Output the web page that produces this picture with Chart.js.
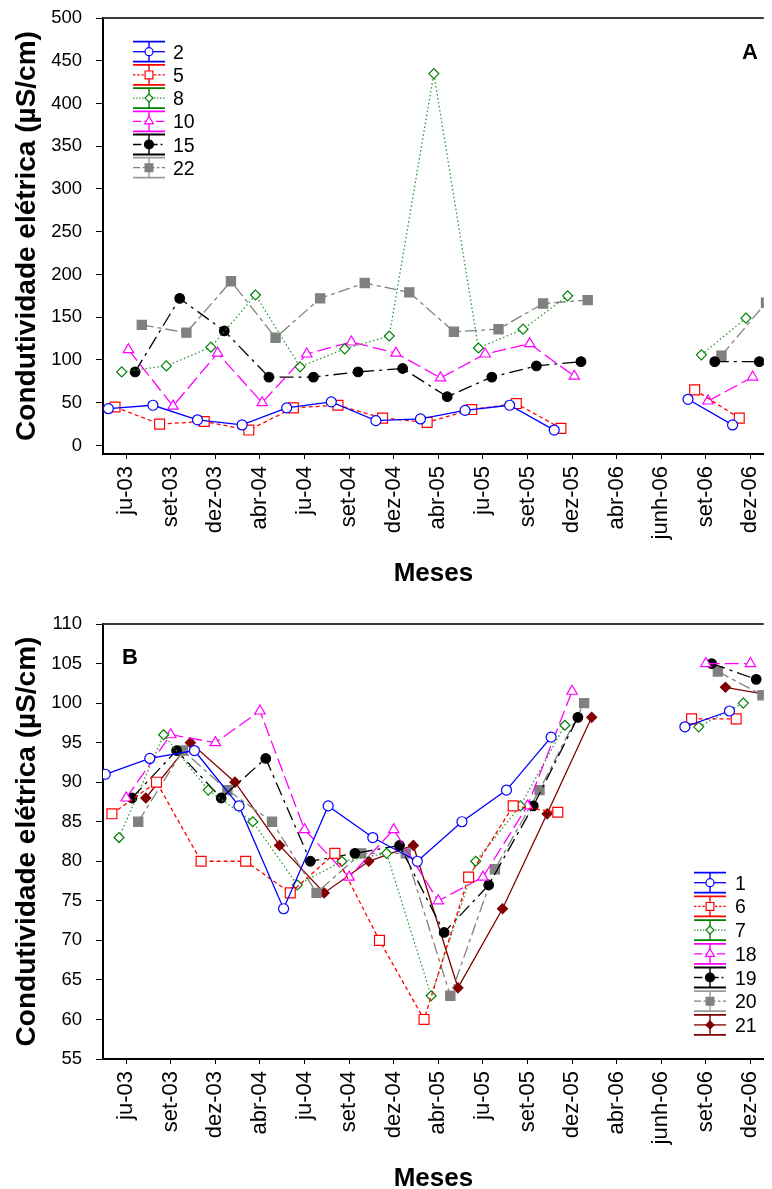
<!DOCTYPE html>
<html><head><meta charset="utf-8">
<script src="https://cdn.jsdelivr.net/npm/chart.js@4.4.1/dist/chart.umd.min.js"></script>
<style>
html,body{margin:0;padding:0;background:#fff;}
#wrap{width:772px;height:1189px;position:relative;overflow:hidden;background:#fff;}
canvas{display:block;position:absolute;left:0;}
#cA{top:0;}
#cB{top:605px;}
</style></head><body>
<div id="wrap">
<canvas id="cA" width="772" height="600"></canvas>
<canvas id="cB" width="772" height="600"></canvas>
</div>
<script>
// ---------- DATA ----------
const monthLabels = ['ju-03','set-03','dez-03','abr-04','ju-04','set-04','dez-04','abr-05','ju-05','set-05','dez-05','abr-06','junh-06','set-06','dez-06'];
const yTicksA = [0,50,100,150,200,250,300,350,400,450,500];
const yTicksB = [55,60,65,70,75,80,85,90,95,100,105,110];
const yTitle = 'Condutividade elétrica (µS/cm)';
const xTitle = 'Meses';

// Panel A stations
const namesA = ['2','5','8','10','15','22'];
const stA2  = [43, 47, 30, 24, 44, 51, 29, 31, 41, 47, 18, null, null, 54, 24];
const stA5  = [45, 25, 28, 18, 44, 47, 32, 27, 42, 49, 20, null, null, 65, 32];
const stA8  = [86, 93, 115, 176, 92, 113, 128, 435, 114, 136, 175, null, null, 106, 149];
const stA10 = [112, 46, 108, 50, 107, 121, 108, 79, 107, 119, 81, null, null, 52, 80];
const stA15 = [86, 172, 134, 80, 80, 86, 90, 57, 80, 93, 98, null, null, 98, 98];
const stA22 = [141, 132, 192, 126, 172, 190, 179, 133, 136, 166, 170, null, null, 105, 167];

// Panel B stations
const namesB = ['1','6','7','18','19','20','21'];
const stB1  = [91, 93, 94, 87, 74, 87, 83, 80, 85, 89, 95.7, null, null, 97, 99];
const stB6  = [86, 90, 80, 80, 76, 81, 70, 60, 78, 87, 86.2, null, null, 98, 98];
const stB7  = [83, 96, 89, 85, 77, 80, 81, 63, 80, 87, 97.2, null, null, 97, 100];
const stB18 = [88, 96, 95, 99, 84, 78, 84, 75, 78, 87, 101.5, null, null, 105, 105];
const stB19 = [88, 94, 88, 93, 80, 81, 82, 71, 77, 87, 98.2, null, null, 105, 103];
const stB20 = [85, 94, 89, 85, 76, 81, 81, 63, 79, 89, 100, null, null, 104, 101];
const stB21 = [88, 95, 90, 82, 76, 80, 82, 64, 74, 86, 98.2, null, null, 102, 101];

// ---------- STYLES ----------
const FONT = '"Liberation Sans", Arial, Helvetica, sans-serif';
const S = {
  blue:   {color:'#0000ff', line:'#0000ff', cap:'#0000ff', fill:'#ffffff', shape:'circle',   r:5,   lr:4,   dash:[]},
  red:    {color:'#ff0000', line:'#ff0000', cap:'#ff0000', fill:'#ffffff', shape:'rect',     r:7,   lr:5.5, dash:[4,3]},
  green:  {color:'#008000', line:'#2f9a2f', cap:'#008000', fill:'#ffffff', shape:'rectRot',  r:5,   lr:4,   dash:[1.5,2.5]},
  magenta:{color:'#ff00ff', line:'#ff00ff', cap:'#ff00ff', fill:'#ffffff', shape:'triangle', r:6,   lr:5,   dash:[14,5]},
  black:  {color:'#000000', line:'#000000', cap:'#000000', fill:'#000000', shape:'circle',   r:4.8, lr:4.5, dash:[14,5,3,5]},
  gray:   {color:'#808080', line:'#808080', cap:'#9a9a9a', fill:'#808080', shape:'rect',     r:6.5, lr:5.5, dash:[12,4,4,4]},
  maroon: {color:'#800000', line:'#800000', cap:'#800000', fill:'#800000', shape:'rectRot',  r:5,   lr:4,   dash:[]}
};
const stylesA = [S.blue, S.red, S.green, S.magenta, S.black, S.gray];
const offsetsA = [-0.40, -0.25, -0.10, 0.05, 0.20, 0.35];
const stylesB = [S.blue, S.red, S.green, S.magenta, S.black, S.gray, S.maroon];
const offsetsB = [-0.47, -0.32, -0.16, 0.0, 0.13, 0.27, 0.44];

function buildDatasets(valuesList, names, styles, offsets){
  return valuesList.map((vals, k) => {
    const st = styles[k];
    return {
      label: names[k],
      data: vals.map((v, i) => ({x: i + offsets[k], y: v})),
      borderColor: st.line,
      borderWidth: 1.3,
      borderDash: st.dash,
      pointStyle: st.shape,
      pointRadius: st.r,
      pointBorderColor: st.color,
      pointBackgroundColor: st.fill,
      pointBorderWidth: 1.2,
      tension: 0,
      spanGaps: false
    };
  });
}

function shapePath(ctx, shape, x, y, r){
  ctx.beginPath();
  if (shape === 'circle') { ctx.arc(x, y, r, 0, Math.PI*2); }
  else if (shape === 'rect') { const s = r*Math.SQRT1_2; ctx.rect(x-s, y-s, 2*s, 2*s); }
  else if (shape === 'rectRot') { ctx.moveTo(x, y-r); ctx.lineTo(x+r, y); ctx.lineTo(x, y+r); ctx.lineTo(x-r, y); ctx.closePath(); }
  else if (shape === 'triangle') {
    let a = 0; ctx.moveTo(x + Math.sin(a)*r, y - Math.cos(a)*r);
    a += 2*Math.PI/3; ctx.lineTo(x + Math.sin(a)*r, y - Math.cos(a)*r);
    a += 2*Math.PI/3; ctx.lineTo(x + Math.sin(a)*r, y - Math.cos(a)*r);
    ctx.closePath();
  }
}

const boxLegend = {
  id: 'boxLegend',
  afterDraw(chart, args, o){
    if (!o || !o.items) return;
    const ctx = chart.ctx;
    ctx.save();
    const xc = (o.x0 + o.x1)/2;
    o.items.forEach((it, i) => {
      const y = o.y0 + i*o.step;
      const st = it.style;
      ctx.setLineDash([]);
      ctx.lineWidth = 1.8;
      ctx.strokeStyle = st.cap;
      ctx.beginPath();
      ctx.moveTo(o.x0, y - o.cap); ctx.lineTo(o.x1, y - o.cap);
      ctx.moveTo(o.x0, y + o.cap); ctx.lineTo(o.x1, y + o.cap);
      ctx.stroke();
      ctx.lineWidth = 1.4;
      ctx.beginPath(); ctx.moveTo(xc, y - o.cap); ctx.lineTo(xc, y + o.cap); ctx.stroke();
      ctx.lineWidth = 1.3;
      ctx.strokeStyle = st.line;
      ctx.setLineDash(st.dash.length ? st.dash.map(d => Math.max(d*0.6, 1.5)) : []);
      ctx.beginPath(); ctx.moveTo(o.x0, y); ctx.lineTo(o.x1, y); ctx.stroke();
      ctx.setLineDash([]);
      shapePath(ctx, st.shape, xc, y, st.lr);
      ctx.fillStyle = st.fill; ctx.fill();
      ctx.lineWidth = 1.2; ctx.strokeStyle = st.color; ctx.stroke();
      ctx.fillStyle = '#000';
      ctx.font = '19.5px ' + FONT;
      ctx.textAlign = 'left';
      ctx.textBaseline = 'alphabetic';
      ctx.fillText(it.label, o.textX, y + 7);
    });
    ctx.restore();
  }
};

const frame = {
  id: 'frame',
  afterDraw(chart, args, o){
    const {ctx, chartArea} = chart;
    ctx.save();
    ctx.strokeStyle = '#3a3a3a';
    ctx.lineWidth = 2;
    ctx.beginPath();
    ctx.moveTo(chartArea.left, chartArea.top); ctx.lineTo(chartArea.right, chartArea.top);
    ctx.stroke();
    ctx.fillStyle = '#000';
    ctx.font = 'bold 22px ' + FONT;
    ctx.textAlign = 'center';
    ctx.textBaseline = 'alphabetic';
    ctx.fillText(o.text, o.x, o.y);
    ctx.restore();
  }
};

function makeChart(id, datasets, yMin, yMax, yTicks, topPad, legendOpts, frameOpts){
  return new Chart(document.getElementById(id), {
    type: 'line',
    data: {datasets},
    options: {
      responsive: false,
      animation: false,
      devicePixelRatio: 1,
      layout: {padding: {top: topPad, right: 0, left: 0, bottom: 0}},
      plugins: {legend: {display: false}, tooltip: {enabled: false}, boxLegend: legendOpts, frame: frameOpts},
      scales: {
        x: {
          type: 'linear', min: -0.52, max: 14.3,
          afterBuildTicks: (sc) => { sc.ticks = monthLabels.map((_, i) => ({value: i})); },
          afterFit: (sc) => { sc.height = 146; sc.paddingLeft = 0; sc.paddingRight = 0; },
          ticks: {autoSkip: false, minRotation: 90, maxRotation: 90, padding: 7, color: '#000',
                  font: {size: 22, family: FONT}, callback: (v) => monthLabels[Math.round(v)]},
          grid: {drawOnChartArea: false, drawTicks: true, tickLength: 5, color: '#000', lineWidth: 1},
          border: {display: true, color: '#000', width: 2},
          title: {display: true, text: xTitle, color: '#000', font: {size: 26, weight: 'bold', family: FONT}, padding: {top: 0, bottom: 11}}
        },
        y: {
          type: 'linear', min: yMin, max: yMax,
          afterBuildTicks: (sc) => { sc.ticks = yTicks.map(v => ({value: v})); },
          afterFit: (sc) => { sc.width = 103; sc.paddingTop = 0; sc.paddingBottom = 0; },
          ticks: {padding: 14, color: '#000', font: {size: 18.5, family: FONT}},
          grid: {drawOnChartArea: false, drawTicks: true, tickLength: 7, color: '#000', lineWidth: 1},
          border: {display: true, color: '#000', width: 2},
          title: {display: true, text: yTitle, color: '#000', font: {size: 28, weight: 'bold', family: FONT}, padding: {top: 10, bottom: 0}}
        }
      }
    },
    plugins: [boxLegend, frame]
  });
}

Chart.defaults.font.family = FONT;

const dsA = buildDatasets([stA2, stA5, stA8, stA10, stA15, stA22], namesA, stylesA, offsetsA);
const dsB = buildDatasets([stB1, stB6, stB7, stB18, stB19, stB20, stB21], namesB, stylesB, offsetsB);

makeChart('cA', dsA, -10, 500, yTicksA, 18,
  {x0: 133, x1: 165, textX: 173, y0: 51.7, step: 23.2, cap: 10, items: namesA.map((n, k) => ({label: n, style: stylesA[k]}))},
  {text: 'A', x: 750, y: 58.5});
makeChart('cB', dsB, 55, 110, yTicksB, 19,
  {x0: 694, x1: 726, textX: 735, y0: 277.7, step: 23.7, cap: 10, items: namesB.map((n, k) => ({label: n, style: stylesB[k]}))},
  {text: 'B', x: 130, y: 59});
</script>
</body></html>
